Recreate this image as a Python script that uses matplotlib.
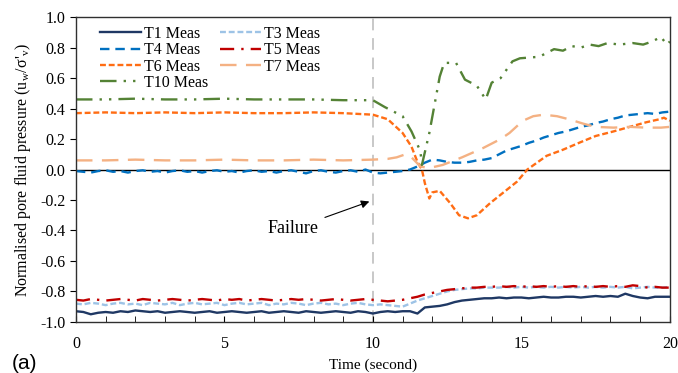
import numpy as np
import matplotlib
matplotlib.use("Agg")
import matplotlib.pyplot as plt
from matplotlib.ticker import MultipleLocator, FormatStrFormatter

plt.rcParams['font.family'] = ['Liberation Serif', 'DejaVu Serif']
plt.rcParams['mathtext.fontset'] = 'stix'
plt.rcParams['axes.unicode_minus'] = False

# common time grid for the noisy series (0.25 s step)
t_grid = np.arange(0, 20.001, 0.25)

t1_meas = [-0.93, -0.935, -0.95, -0.94, -0.935, -0.94, -0.93, -0.935, -0.925,
           -0.93, -0.935, -0.93, -0.94, -0.935, -0.93, -0.935, -0.94,
           -0.935, -0.93, -0.94, -0.935, -0.93, -0.935, -0.94, -0.935,
           -0.93, -0.94, -0.935, -0.93, -0.935, -0.94, -0.93, -0.935,
           -0.94, -0.935, -0.93, -0.935, -0.94, -0.93, -0.935, -0.945,
           -0.935, -0.93, -0.935, -0.93, -0.93, -0.945, -0.905, -0.9,
           -0.895, -0.885, -0.87, -0.86, -0.855, -0.85, -0.845, -0.845,
           -0.84, -0.845, -0.84, -0.84, -0.845, -0.84, -0.835, -0.84,
           -0.84, -0.835, -0.835, -0.84, -0.835, -0.83, -0.835, -0.83,
           -0.835, -0.815, -0.83, -0.84, -0.845, -0.835, -0.835, -0.835]

t3_meas = [-0.88, -0.885, -0.875, -0.88, -0.89, -0.88, -0.875, -0.885, -0.88,
           -0.89, -0.875, -0.88, -0.885, -0.875, -0.89, -0.88, -0.875,
           -0.885, -0.88, -0.875, -0.89, -0.88, -0.875, -0.885, -0.88,
           -0.875, -0.89, -0.88, -0.885, -0.875, -0.88, -0.89, -0.88,
           -0.875, -0.885, -0.88, -0.89, -0.88, -0.875, -0.885, -0.89,
           -0.885, -0.89, -0.895, -0.9, -0.88, -0.86, -0.845, -0.83,
           -0.815, -0.8, -0.79, -0.785, -0.78, -0.78, -0.775, -0.775,
           -0.775, -0.77, -0.775, -0.77, -0.775, -0.77, -0.775, -0.77,
           -0.775, -0.77, -0.775, -0.77, -0.775, -0.77, -0.775, -0.77,
           -0.775, -0.77, -0.78, -0.775, -0.77, -0.775, -0.775, -0.77]

t4_meas = [-0.01, -0.015, -0.02, -0.01, -0.005, -0.015, -0.01, -0.02, -0.01,
           -0.005, -0.015, -0.01, -0.02, -0.01, -0.005, -0.015, -0.01,
           -0.02, -0.01, -0.005, -0.015, -0.01, -0.02, -0.01, -0.005,
           -0.015, -0.01, -0.02, -0.01, -0.005, -0.015, -0.025, -0.01,
           -0.005, -0.015, -0.02, -0.01, -0.005, -0.015, 0.0, -0.02,
           -0.025, -0.02, -0.015, -0.01, 0.0, 0.02, 0.045, 0.065,
           0.06, 0.05, 0.045, 0.045, 0.05, 0.06, 0.065, 0.075,
           0.1, 0.125, 0.14, 0.155, 0.175, 0.19, 0.21, 0.225,
           0.24, 0.25, 0.265, 0.28, 0.29, 0.305, 0.315, 0.33,
           0.34, 0.355, 0.36, 0.365, 0.37, 0.365, 0.375, 0.38]

t5_meas = [-0.855, -0.86, -0.85, -0.855, -0.86, -0.855, -0.85, -0.855, -0.86,
           -0.85, -0.855, -0.86, -0.855, -0.85, -0.855, -0.86, -0.855,
           -0.85, -0.855, -0.86, -0.85, -0.855, -0.85, -0.86, -0.855,
           -0.85, -0.855, -0.86, -0.855, -0.85, -0.855, -0.85, -0.855,
           -0.86, -0.855, -0.85, -0.855, -0.86, -0.855, -0.85, -0.855,
           -0.86, -0.865, -0.86, -0.855, -0.845, -0.835, -0.82, -0.81,
           -0.8, -0.79, -0.785, -0.78, -0.775, -0.775, -0.77, -0.77,
           -0.765, -0.77, -0.765, -0.77, -0.765, -0.77, -0.765, -0.77,
           -0.765, -0.77, -0.765, -0.77, -0.765, -0.77, -0.765, -0.77,
           -0.765, -0.77, -0.76, -0.765, -0.775, -0.77, -0.775, -0.775]

t6_time = [0, 1, 2, 3, 4, 5, 6, 7, 8, 9, 9.5, 10, 10.5, 11, 11.3, 11.5, 11.65,
           11.75, 11.9, 12.0, 12.25, 12.6, 12.9, 13.2, 13.5, 13.95, 14.4, 14.85,
           15.2, 15.85, 16.4, 17.0, 17.5, 18.1, 18.65, 19.2, 19.65, 19.8, 20]
t6_meas = [0.37, 0.375, 0.37, 0.375, 0.37, 0.375, 0.37, 0.37, 0.375, 0.37, 0.365,
           0.36, 0.33, 0.24, 0.15, 0.05, 0.0, -0.09, -0.19, -0.15, -0.14, -0.22,
           -0.30, -0.32, -0.30, -0.22, -0.15, -0.08, 0.0, 0.09, 0.13, 0.18, 0.22,
           0.25, 0.28, 0.31, 0.33, 0.34, 0.32]

t7_time = [0, 1, 2, 3, 4, 5, 6, 7, 8, 9, 10, 10.5, 10.8, 11.1, 11.3, 11.6, 11.9,
           12.35, 13.0, 13.7, 14.3, 14.6, 15.05, 15.4, 15.75, 16.2, 16.6, 17.1,
           17.5, 18.1, 18.65, 19.2, 19.7, 20]
t7_meas = [0.06, 0.06, 0.065, 0.06, 0.06, 0.065, 0.06, 0.06, 0.065, 0.06, 0.065,
           0.07, 0.08, 0.10, 0.08, 0.02, 0.01, 0.03, 0.08, 0.14, 0.2, 0.24, 0.32,
           0.35, 0.36, 0.35, 0.33, 0.30, 0.28, 0.275, 0.28, 0.275, 0.275, 0.28]

t10_time = [0, 1, 2, 3, 4, 5, 6, 7, 8, 9, 10, 10.4, 11.0, 11.3, 11.6, 11.65, 11.9,
            12.25, 12.4, 12.8, 13.1, 13.5, 13.8, 14.0, 14.3, 14.7, 14.95, 15.6,
            16.1, 16.4, 16.7, 17.0, 17.3, 17.6, 17.9, 18.3, 18.75, 19.1, 19.4,
            19.7, 19.9, 20]
t10_meas = [0.46, 0.46, 0.465, 0.46, 0.46, 0.465, 0.46, 0.46, 0.46, 0.455, 0.455,
            0.41, 0.35, 0.25, 0.12, 0.03, 0.24, 0.61, 0.70, 0.70, 0.59, 0.55, 0.46,
            0.57, 0.60, 0.71, 0.73, 0.74, 0.79, 0.78, 0.81, 0.80, 0.82, 0.81, 0.83,
            0.82, 0.83, 0.82, 0.84, 0.87, 0.82, 0.84]

fig = plt.figure(figsize=(6.78, 3.73), dpi=100)
ax = fig.add_axes([0.112, 0.137, 0.876, 0.817])

lw = 1.7
h1, = ax.plot(t_grid, t1_meas, color='#1F3864', lw=lw, label='T1 Meas')
h3, = ax.plot(t_grid, t3_meas, color='#9DC3E6', lw=lw, ls=(0, (2.5, 1.2)), label='T3 Meas')
h4, = ax.plot(t_grid, t4_meas, color='#0070C0', lw=lw, ls=(0, (4, 2.5)), label='T4 Meas')
h5, = ax.plot(t_grid, t5_meas, color='#C00000', lw=lw, ls=(0, (6, 3, 1, 3)), label='T5 Meas')
h6, = ax.plot(t6_time, t6_meas, color='#FF6D14', lw=lw, ls=(0, (2.5, 1.2)), label='T6 Meas')
h7, = ax.plot(t7_time, t7_meas, color='#F4B183', lw=lw, ls=(0, (7, 4)), label='T7 Meas')
h10, = ax.plot(t10_time, t10_meas, color='#548235', lw=lw, ls=(0, (7, 3, 1, 3, 1, 3)), label='T10 Meas')

ax.axhline(0, color='black', lw=1, zorder=1)
ax.axvline(10, color='#C8C8C8', lw=1.4, ls=(0, (6, 4)), zorder=0)

ax.annotate('Failure', xy=(9.88, -0.21), xytext=(7.3, -0.39),
            ha='center', va='center', fontsize=13,
            arrowprops=dict(arrowstyle='-|>', color='black', lw=0.8,
                            mutation_scale=12, shrinkA=3, shrinkB=0))

ax.set_xlim(0, 20)
ax.set_ylim(-1.0, 1.0)
ax.xaxis.set_major_locator(MultipleLocator(5))
ax.xaxis.set_minor_locator(MultipleLocator(1))
ax.yaxis.set_major_locator(MultipleLocator(0.2))
ax.yaxis.set_major_formatter(FormatStrFormatter('%.1f'))
ax.tick_params(axis='x', which='both', direction='in', length=4, labelsize=11.5, pad=10)
ax.tick_params(axis='y', direction='out', length=4, labelsize=11.5)
for sp in ax.spines.values():
    sp.set_color('#303030')
    sp.set_linewidth(1)

ax.set_xlabel('Time (second)', fontsize=11, labelpad=5)
ax.set_ylabel(r"Normalised pore fluid pressure (u$_\mathregular{w}$/σ'$_\mathregular{v}$)",
              fontsize=11.5, labelpad=5)

# rows: T1 T3 / T4 T5 / T6 T7 / T10
handles = [h1, h4, h6, h10, h3, h5, h7]
ax.legend(handles=handles, labels=[h.get_label() for h in handles], ncol=2,
          loc='upper left', frameon=False, fontsize=11.5, handlelength=2.6,
          handletextpad=0.2, labelspacing=0.02, columnspacing=0.7,
          borderaxespad=0.15, bbox_to_anchor=(0.025, 1.0))

fig.text(0.018, 0.0, '(a)', fontsize=15, family='Liberation Sans', va='bottom')

fig.savefig('out.png', dpi=100)
